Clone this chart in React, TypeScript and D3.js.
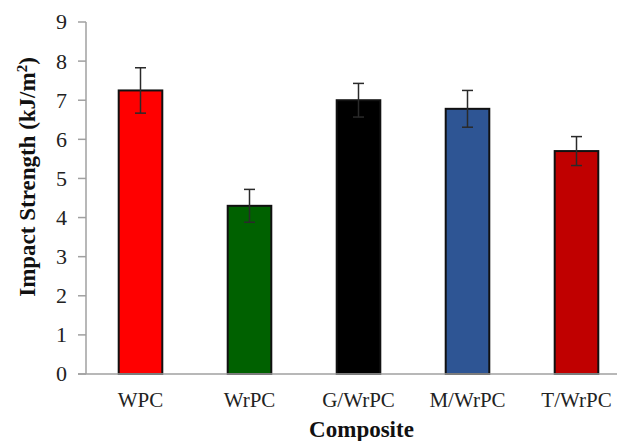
import React from "react";
import * as d3 from "d3";

// data
const categories = ["WPC", "WrPC", "G/WrPC", "M/WrPC", "T/WrPC"];
const values = [7.25, 4.3, 7.0, 6.78, 5.7];
const errors = [0.58, 0.42, 0.43, 0.47, 0.37];
const colors = ["#ff0000", "#006100", "#000000", "#2e5594", "#c00000"];
const yTicks = [0, 1, 2, 3, 4, 5, 6, 7, 8, 9];

const W = 617;
const H = 441;
const left = 86;
const right = 631;
const top = 22;
const bottom = 374;
const serif = "'Liberation Serif', 'Times New Roman', serif";

export default function App() {
  const x = d3.scaleBand<string>().domain(categories).range([left, right]).padding(0);
  const y = d3.scaleLinear().domain([0, 9]).range([bottom, top]);
  const barW = x.bandwidth() * 0.4;

  return (
    <svg
      width={W}
      height={H}
      style={{ position: "absolute", left: 0, top: 0, background: "#fff" }}
    >
      {/* bars */}
      {categories.map((c, i) => {
        const cx = x(c)! + x.bandwidth() / 2;
        return (
          <rect
            key={c}
            x={cx - barW / 2}
            y={y(values[i])}
            width={barW}
            height={y(0) - y(values[i])}
            fill={colors[i]}
            stroke="#111"
            strokeWidth={2}
          />
        );
      })}

      {/* error bars */}
      {categories.map((c, i) => {
        const cx = x(c)! + x.bandwidth() / 2;
        const hi = y(values[i] + errors[i]);
        const lo = y(values[i] - errors[i]);
        return (
          <g key={c} stroke="#2a2a2a" strokeWidth={1.5}>
            <line x1={cx} x2={cx} y1={hi} y2={lo} />
            <line x1={cx - 5.5} x2={cx + 5.5} y1={hi} y2={hi} />
            <line x1={cx - 5.5} x2={cx + 5.5} y1={lo} y2={lo} />
          </g>
        );
      })}

      {/* axes */}
      <line x1={left} x2={left} y1={top} y2={bottom} stroke="#a0a0a0" strokeWidth={1.5} />
      <line x1={left - 8} x2={right} y1={bottom} y2={bottom} stroke="#a0a0a0" strokeWidth={1.5} />
      {yTicks.map((t) => (
        <g key={t}>
          <line x1={left - 8} x2={left} y1={y(t)} y2={y(t)} stroke="#a0a0a0" strokeWidth={1.5} />
          <text
            x={67}
            y={y(t)}
            dy="0.34em"
            textAnchor="end"
            fontFamily={serif}
            fontSize={22}
            fill="#222"
          >
            {t}
          </text>
        </g>
      ))}

      {categories.map((c) => (
        <text
          key={c}
          x={x(c)! + x.bandwidth() / 2}
          y={407}
          textAnchor="middle"
          fontFamily={serif}
          fontSize={21}
          fill="#222"
        >
          {c}
        </text>
      ))}

      <text
        x={(left + right) / 2 + 3}
        y={437}
        textAnchor="middle"
        fontFamily={serif}
        fontSize={23}
        fontWeight="bold"
        fill="#111"
      >
        Composite
      </text>
      <text
        transform={`translate(35,177) rotate(-90)`}
        textAnchor="middle"
        fontFamily={serif}
        fontSize={23}
        fontWeight="bold"
        fill="#111"
      >
        Impact Strength (kJ/m
        <tspan dy="-8" fontSize={15}>2</tspan>
        <tspan dy="8">)</tspan>
      </text>
    </svg>
  );
}
